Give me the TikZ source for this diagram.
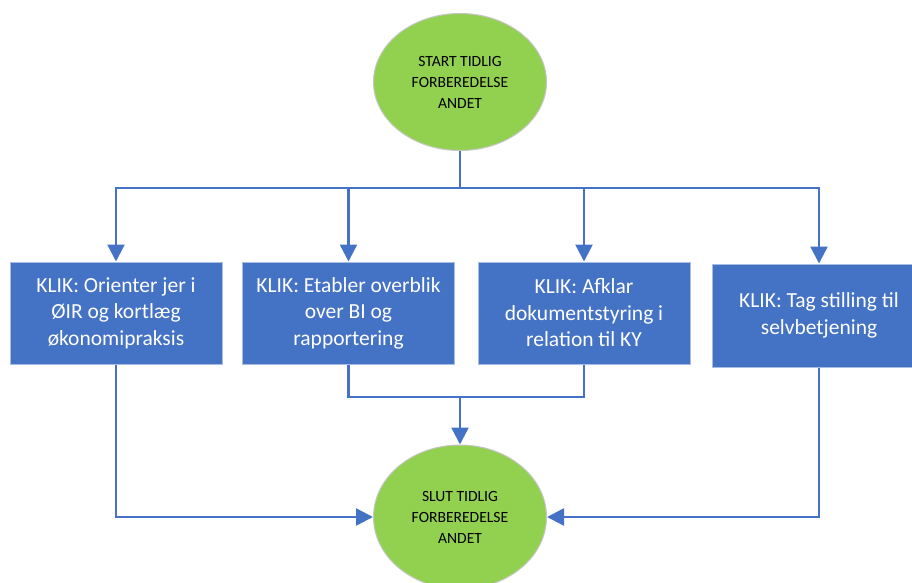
\documentclass[tikz,border=0pt]{standalone}
\usepackage{fontspec}
\setmainfont{Carlito}
\usetikzlibrary{arrows.meta,shapes.geometric}
\definecolor{klikblue}{HTML}{4472C4}
\definecolor{klikedge}{HTML}{A9BCE3}
\definecolor{stepgreen}{HTML}{92D050}

\begin{document}
\begin{tikzpicture}[x=1pt,y=-1pt]
		\tikzset{klikbox/.style={rectangle,draw=klikedge,line width=1pt,fill=klikblue,text=white,minimum width=212pt,minimum height=102pt,inner sep=0pt,align=center,font=\fontsize{21.5}{26.5}\selectfont},
			endpoint/.style={ellipse,draw=gray!45,line width=1pt,fill=stepgreen,minimum width=173pt,minimum height=137pt,inner sep=0pt,align=center,font=\fontsize{15.6}{21}\selectfont},
			link/.style={draw=klikblue,line width=2.4pt},
			flow/.style={link,-{Triangle[length=17pt,width=17pt]}}}
		\useasboundingbox (0,0) rectangle (912,583);
		\clip (0,0) rectangle (912,583);
		\node (start) at (460, 82) [endpoint] {START TIDLIG\\FORBEREDELSE\\ANDET};
		\node (orient) at (116, 313) [klikbox] {KLIK: Orienter jer i\\ØIR og kortlæg\\økonomipraksis};
		\node (bi) at (348.5, 313) [klikbox] {KLIK: Etabler overblik\\over BI og\\rapportering};
		\node (dok) at (584, 313) [klikbox] {KLIK: Afklar\\dokumentstyring i\\relation til KY};
		\node (selv) at (819, 315.5) [klikbox,minimum width=214pt,minimum height=103pt] {KLIK: Tag stilling til\\selvbetjening};
		\node (slut) at (460, 517) [endpoint,minimum height=144pt] {SLUT TIDLIG\\FORBEREDELSE\\ANDET};
		\coordinate (split) at (460, 188);
		\coordinate (join) at (460, 397);
		\path[link] (start) -- (split);
		\path[flow] (split) -| (orient);
		\path[flow] (split) -| (bi);
		\path[flow] (split) -| (dok);
		\path[flow] (split) -| (selv);
		\path[link] (bi) |- (join) -| (dok);
		\path[flow] (join) -- (slut);
		\path[flow] (orient) |- (slut);
		\path[flow] (selv) |- (slut);
	\end{tikzpicture}
\end{document}
